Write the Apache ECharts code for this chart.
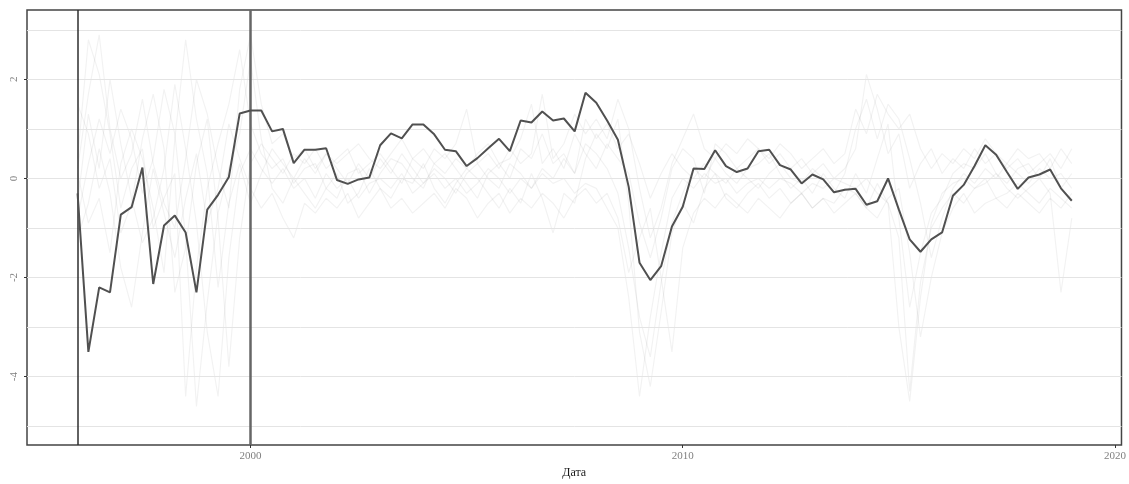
<!DOCTYPE html>
<html>
<head>
<meta charset="utf-8">
<script src="https://cdn.jsdelivr.net/npm/echarts@6/dist/echarts.min.js"></script>
<style>
  html, body { margin: 0; padding: 0; background: #fff; }
  #chart { width: 1129px; height: 484px; }
</style>
</head>
<body>
<div id="chart"></div>
<script>
// Quarterly series, first quarter of 1996 through first quarter of 2019
const startYear = 1996;
const quarterStep = 0.25;

// Highlighted series
const mainValues = [
  -0.30, -3.50, -2.20, -2.30, -0.73, -0.58, 0.22, -2.13,
  -0.95, -0.75, -1.09, -2.30, -0.63, -0.33, 0.03, 1.31,
  1.37, 1.37, 0.95, 1.00, 0.31, 0.58, 0.58, 0.61,
  -0.03, -0.11, -0.02, 0.02, 0.67, 0.91, 0.81, 1.09,
  1.09, 0.89, 0.58, 0.55, 0.25, 0.41, 0.61, 0.80,
  0.55, 1.17, 1.13, 1.35, 1.17, 1.21, 0.95, 1.73,
  1.53, 1.17, 0.78, -0.17, -1.70, -2.05, -1.77, -0.97,
  -0.57, 0.20, 0.19, 0.57, 0.25, 0.13, 0.20, 0.55,
  0.58, 0.27, 0.18, -0.10, 0.08, -0.02, -0.28, -0.23,
  -0.21, -0.53, -0.46, 0.00, -0.63, -1.23, -1.48, -1.23,
  -1.09, -0.35, -0.13, 0.25, 0.67, 0.48, 0.13, -0.21,
  0.02, 0.08, 0.18, -0.20, -0.45
];

// Background series, drawn faintly
const bg1 = [
  0.4, 2.8, 2.1, 0.9, -0.6, 0.2, 0.6, -1.0,
  -0.4, 0.1, -4.4, -1.8, -0.2, 0.7, 1.5, 2.6,
  1.1, 0.5, 0.2, 0.4, -0.1, 0.2, 0.3, -0.2,
  -0.4, 0.1, 0.2, -0.3, 0.1, 0.4, 0.3, 0.0,
  -0.2, 0.3, 0.5, 0.2, -0.1, -0.4, 0.1, 0.3,
  0.0, 0.6, 0.4, 0.9, 0.3, 0.5, 0.1, 0.7,
  0.5, 0.2, -0.3, -1.4, -2.8, -3.6, -2.1, -0.9,
  -0.3, 0.2, 0.0, 0.4, 0.1, -0.1, 0.2, 0.3,
  0.5, 0.1, -0.2, 0.0, -0.3, 0.1, -0.2, -0.4,
  0.1, -0.3, 0.4, 1.1, -0.8, -2.6, -1.5, -0.7,
  -0.4, 0.1, 0.3, 0.2, 0.5, 0.1, -0.1, 0.2,
  0.3, 0.0, 0.4, -0.2, 0.1
];
const bg2 = [
  -0.8, 0.3, 1.2, 0.5, 1.4, 0.8, -0.3, 0.4,
  1.8, 0.9, -1.2, -4.6, -2.5, -0.7, 0.2, 0.9,
  2.4, 0.8, -0.2, -0.5, 0.0, -0.3, -0.6, -0.2,
  0.1, -0.5, -0.3, 0.2, -0.2, -0.4, 0.0, -0.1,
  0.3, -0.2, -0.5, -0.1, 0.2, 0.0, -0.3, -0.6,
  -0.2, -0.5, 0.1, -0.4, -1.1, -0.3, -0.5, 0.4,
  0.9, 0.6, 1.2, -0.5, -3.1, -4.2, -2.7, -1.1,
  -0.5, -0.9, -0.2, 0.1, -0.4, -0.6, -0.3, -0.1,
  -0.4, -0.2, -0.5, -0.3, -0.6, -0.4, -0.5, -0.2,
  -0.3, -0.6, -0.1, -0.5, -1.2, -4.3, -2.1, -1.0,
  -0.6, -0.3, -0.5, -0.2, 0.0, -0.4, -0.3, -0.1,
  -0.3, -0.5, -0.2, -0.4, -0.6
];
const bg3 = [
  1.5, 0.9, -0.2, 0.4, -1.1, -0.5, 0.8, 1.7,
  0.6, -2.3, -1.4, 0.3, 1.2, -0.8, -3.8, -1.2,
  0.3, 0.7, 0.4, 0.1, 0.5, 0.3, 0.6, 0.2,
  0.4, 0.6, 0.1, 0.3, 0.5, 0.2, -0.1, 0.4,
  0.6, 0.3, 0.1, 0.4, 0.2, 0.5, 0.7, 0.3,
  0.4, 0.8, 1.5, 0.3, 0.6, 0.2, 0.9, 0.5,
  0.2, 0.7, 0.4, 0.1, -0.9, -1.6, -0.8, 0.2,
  0.6, 0.4, -0.3, 0.7, 0.5, 0.2, 0.4, 0.6,
  0.3, 0.5, 0.2, 0.4, 0.1, 0.3, 0.0, 0.2,
  0.6, 2.1, 1.4, 0.5, 0.9, -0.2, 0.3, 0.6,
  0.1, 0.4, 0.2, 0.6, 0.3, 0.5, 0.2, 0.4,
  0.1, 0.3, 0.5, 0.2, 0.6
];
const bg4 = [
  -1.2, -0.5, 0.6, -0.3, -1.8, -2.6, -1.1, 0.2,
  -0.7, -1.6, -0.4, 0.5, -0.9, -0.2, 1.1, 0.4,
  -0.2, -0.6, -0.3, -0.8, -1.2, -0.5, -0.7, -0.4,
  -0.6, -0.3, -0.8, -0.5, -0.2, -0.6, -0.4, -0.7,
  -0.5, -0.3, -0.6, -0.2, -0.4, -0.8, -0.5, -0.3,
  -0.7, -0.4, -0.6, -0.3, -0.5, -0.8, -0.4, -0.2,
  -0.5, -0.3, -0.8, -1.9, -1.2, -0.6, -2.0, -3.5,
  -1.4, -0.7, -0.4, -0.6, -0.3, -0.5, -0.7, -0.4,
  -0.6, -0.8, -0.5, -0.3, -0.6, -0.4, -0.7, -0.5,
  -0.3, -0.6, -0.8, -0.4, -0.2, -1.5, -3.2, -2.0,
  -1.1, -0.6, -0.3, -0.7, -0.5, -0.4, -0.6, -0.3,
  -0.5, -0.7, -0.4, -0.6, -0.3
];
const bg5 = [
  0.1, -0.9, -0.4, -1.5, 0.3, 1.0, 0.4, -0.6,
  -1.9, 0.8, 2.8, 1.2, 0.1, -2.2, -0.5, 0.3,
  -0.5, 0.1, 0.6, 0.3, 0.0, 0.4, 0.1, 0.5,
  0.2, -0.1, 0.3, 0.0, 0.4, 0.1, 0.5, 0.2,
  -0.1, 0.2, 0.0, -0.3, 0.1, 0.3, 0.0, -0.2,
  0.3, 0.1, -0.2, 0.2, 0.0, 0.4, 0.1, 1.2,
  0.8, 1.1, 0.6, 0.9, 0.3, -0.4, 0.1, 0.5,
  0.2, 0.0, 0.3, 0.1, -0.1, 0.2, 0.0, -0.2,
  0.1, 0.3, 0.0, -0.1, 0.2, 0.0, -0.3, 0.1,
  1.0, 1.6, 0.8, 1.5, 1.2, 0.4, -0.5, -1.6,
  -0.8, -0.2, 0.1, -0.1, 0.2, 0.0, 0.3, 0.1,
  -0.1, 0.2, 0.0, 0.1, -0.2
];
const bg6 = [
  -0.5, 1.3, 0.2, 2.0, 0.7, -0.4, -1.3, -0.8,
  0.2, 1.9, 0.6, -0.9, -3.1, -4.4, -1.6, 0.1,
  0.6, 0.2, -0.1, 0.2, -0.2, 0.0, -0.4, 0.1,
  -0.2, 0.0, -0.4, -0.1, 0.0, -0.2, 0.1, -0.3,
  -0.1, 0.1, -0.2, 0.0, -0.3, -0.1, 0.2, 0.0,
  -0.3, 0.0, -0.2, 0.1, -0.1, 0.0, -0.3, -0.1,
  -0.2, -0.6, -1.0, -2.4, -4.4, -2.8, -1.5, -0.4,
  0.0, -0.2, 0.1, -0.1, 0.0, -0.3, -0.1, 0.0,
  -0.2, 0.0, -0.1, -0.3, -0.1, -0.2, 0.0, -0.1,
  -0.2, 0.0, -0.3, -0.5, -3.0, -4.5, -2.4, -0.9,
  -0.3, -0.1, 0.0, -0.2, -0.1, 0.1, -0.2, -0.4,
  -0.2, 0.0, -0.3, -2.3, -0.8
];
const bg7 = [
  0.2, 1.7, 2.9, 1.0, 0.0, 0.5, 1.6, 0.3,
  -0.5, -1.0, 0.4, 2.0, 1.3, 0.2, -0.6, 1.8,
  2.9, 1.5, 0.7, 0.9, 0.4, 0.6, 0.2, 0.5,
  0.3, 0.5, 0.7, 0.4, 0.2, 0.5, 0.8, 0.4,
  0.2, 0.6, 0.4, 0.7, 1.4, 0.3, 0.5, 0.2,
  0.6, 0.3, 0.5, 1.7, 0.4, 0.7, 1.3, 0.9,
  1.2, 0.8, 1.6, 1.0, -0.2, -1.2, -0.6, 0.3,
  0.8, 1.3, 0.6, 0.4, 0.7, 0.5, 0.8, 0.6,
  0.4, 0.7, 0.5, 0.2, 0.4, 0.6, 0.3, 0.5,
  1.4, 0.9, 1.7, 1.3, 1.0, 1.3, 0.6, 0.2,
  0.5, 0.3, 0.6, 0.4, 0.8, 0.5, 0.3, 0.6,
  0.4, 0.5, 0.2, 0.6, 0.3
];
const backgroundSeries = [bg1, bg2, bg3, bg4, bg5, bg6, bg7];

// Axis marks
const xTickLabels = [2000, 2010, 2020];
const yTickLabels = [-4, -2, 0, 2];
const gridValues = [-5, -4, -3, -2, -1, 0, 1, 2, 3];
const markerYears = [1996, 2000];
const xTitle = 'Дата';

const FONT = '"Liberation Serif", "DejaVu Serif", serif';

function toPoints(values) {
  return values.map((v, i) => [startYear + i * quarterStep, v]);
}

const noMarkSymbol = ['none', 'none'];

const series = [];

backgroundSeries.forEach((vals, k) => {
  const s = {
    type: 'line',
    data: toPoints(vals),
    showSymbol: false,
    silent: true,
    z: 2,
    lineStyle: { color: 'rgba(0,0,0,0.05)', width: 1.2 },
    animation: false
  };
  if (k === 0) {
    // horizontal grid lines at every integer
    s.markLine = {
      symbol: noMarkSymbol,
      silent: true,
      animation: false,
      label: { show: false },
      lineStyle: { type: 'solid', color: '#e4e4e4', width: 1 },
      data: gridValues.map(v => ({ yAxis: v }))
    };
  }
  series.push(s);
});

series.push({
  type: 'line',
  data: toPoints(mainValues),
  showSymbol: false,
  z: 5,
  lineStyle: { color: '#505050', width: 2 },
  animation: false,
  markLine: {
    symbol: noMarkSymbol,
    silent: true,
    animation: false,
    label: { show: false },
    data: [
      { xAxis: markerYears[0], lineStyle: { type: 'solid', color: '#2e2e2e', width: 1.5 } },
      { xAxis: markerYears[1], lineStyle: { type: 'solid', color: '#666666', width: 2.5 } }
    ]
  }
});

const chart = echarts.init(document.getElementById('chart'), null, { renderer: 'canvas' });
chart.setOption({
  animation: false,
  backgroundColor: '#ffffff',
  grid: {
    left: 27, right: 7, top: 10, bottom: 38,
    show: true,
    borderColor: '#444444',
    borderWidth: 1.5,
    backgroundColor: 'transparent'
  },
  xAxis: {
    type: 'value',
    min: 1994.83,
    max: 2020.15,
    name: xTitle,
    nameLocation: 'middle',
    nameGap: 22,
    nameTextStyle: { fontFamily: FONT, fontSize: 12, color: '#1a1a1a' },
    axisLine: { show: false, onZero: false },
    splitLine: { show: false },
    axisTick: {
      show: true, length: 3, inside: false,
      customValues: xTickLabels,
      lineStyle: { color: '#333333', width: 1 }
    },
    axisLabel: {
      customValues: xTickLabels,
      margin: 6,
      fontFamily: FONT, fontSize: 11, color: '#808080',
      formatter: v => String(v)
    }
  },
  yAxis: {
    type: 'value',
    min: -5.38,
    max: 3.4,
    axisLine: { show: false, onZero: false },
    splitLine: { show: false },
    axisTick: {
      show: true, length: 3, inside: false,
      customValues: yTickLabels,
      lineStyle: { color: '#333333', width: 1 }
    },
    axisLabel: {
      customValues: yTickLabels,
      rotate: 90,
      margin: 7,
      fontFamily: FONT, fontSize: 11, color: '#808080',
      formatter: v => String(v)
    }
  },
  series: series
});
</script>
</body>
</html>
